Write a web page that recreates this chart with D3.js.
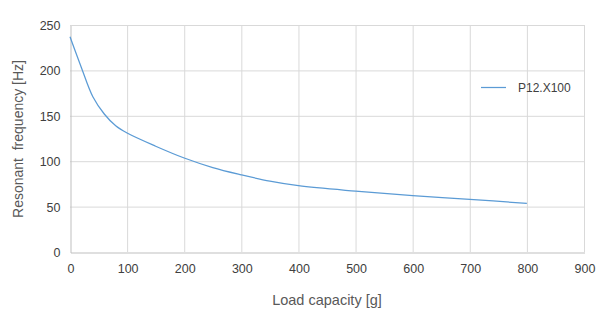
<!DOCTYPE html>
<html>
<head>
<meta charset="utf-8">
<script src="https://cdn.jsdelivr.net/npm/d3@7/dist/d3.min.js"></script>
<style>
  html, body { margin: 0; padding: 0; background: #fff; }
  svg { display: block; }
</style>
</head>
<body>
<svg id="chart" width="609" height="322"></svg>
<script>
// Resonant frequency vs. load for P12.X100
const loads = [0, 20, 40, 60, 80, 100, 150, 200, 250, 300, 350, 400, 500, 600, 700, 800];
const freqs = [237, 203, 171, 152, 139, 131, 116.5, 103.5, 93, 85, 78, 73, 67, 62, 58, 53.5];
const seriesName = "P12.X100";
const xTicks = [0, 100, 200, 300, 400, 500, 600, 700, 800, 900];
const yTicks = [0, 50, 100, 150, 200, 250];
const xTitle = "Load capacity [g]";
const yTitle = "Resonant  frequency [Hz]";

const svg = d3.select("#chart");
const plotLeft = 70, plotRight = 584, plotTop = 25, plotBottom = 252;

const x = d3.scaleLinear().domain([0, 900]).range([plotLeft, plotRight]);
const y = d3.scaleLinear().domain([0, 250]).range([plotBottom, plotTop]);

const gridColor = "#d9d9d9";
const textColor = "#404040";
const font = "'Liberation Sans', Arial, sans-serif";

// Gridlines
svg.append("g").selectAll("line").data(xTicks.filter(d => d > 0)).join("line")
  .attr("x1", d => x(d) + 0.5).attr("x2", d => x(d) + 0.5)
  .attr("y1", plotTop).attr("y2", plotBottom)
  .attr("stroke", gridColor).attr("stroke-width", 1);
svg.append("g").selectAll("line").data(yTicks.filter(d => d > 0)).join("line")
  .attr("x1", plotLeft).attr("x2", plotRight)
  .attr("y1", d => y(d) + 0.5).attr("y2", d => y(d) + 0.5)
  .attr("stroke", gridColor).attr("stroke-width", 1);

// Axes
const xAxis = svg.append("g").attr("transform", `translate(0.5,${plotBottom + 0.5})`)
  .call(d3.axisBottom(x).tickValues(xTicks).tickSize(0).tickPadding(12));
const yAxis = svg.append("g").attr("transform", `translate(${plotLeft + 0.5},0.5)`)
  .call(d3.axisLeft(y).tickValues(yTicks).tickSize(0).tickPadding(10));
[xAxis, yAxis].forEach(g => {
  g.select(".domain").attr("stroke", "#bfbfbf");
  g.selectAll("text").attr("fill", textColor)
    .style("font-family", font).style("font-size", "12.5px");
});

// Curve
const line = d3.line()
  .x((d, i) => x(loads[i]))
  .y(d => y(d))
  .curve(d3.curveCatmullRom.alpha(0.5));
svg.append("path")
  .datum(freqs)
  .attr("d", line)
  .attr("fill", "none")
  .attr("stroke", "#5b9bd5")
  .attr("stroke-width", 1.25);

// Legend
svg.append("line")
  .attr("x1", 481).attr("x2", 506).attr("y1", 87.5).attr("y2", 87.5)
  .attr("stroke", "#5b9bd5").attr("stroke-width", 1.25);
svg.append("text")
  .attr("x", 518).attr("y", 92)
  .attr("fill", textColor)
  .style("font-family", font).style("font-size", "12px")
  .text(seriesName);

// Axis titles
svg.append("text")
  .attr("x", (plotLeft + plotRight) / 2).attr("y", 305)
  .attr("text-anchor", "middle")
  .attr("fill", "#595959")
  .style("font-family", font).style("font-size", "14.5px")
  .text(xTitle);
svg.append("text")
  .attr("transform", `translate(23,139) rotate(-90)`)
  .attr("text-anchor", "middle")
  .attr("fill", "#595959")
  .style("font-family", font).style("font-size", "14px")
  .style("white-space", "pre")
  .text(yTitle);
</script>
</body>
</html>
